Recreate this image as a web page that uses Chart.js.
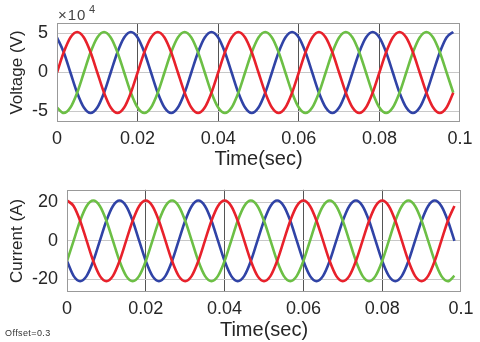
<!DOCTYPE html>
<html>
<head>
<meta charset="utf-8">
<script src="https://cdn.jsdelivr.net/npm/chart.js@4/dist/chart.umd.min.js"></script>
<style>
  html, body { margin: 0; padding: 0; background: #fff; }
  #wrap { position: relative; width: 480px; height: 342px; }
  .box { position: absolute; left: 0; width: 480px; }
</style>
</head>
<body>
<div id="wrap">
  <div class="box" style="top:0;height:170px"><canvas id="voltageChart"></canvas></div>
  <div class="box" style="top:170px;height:172px"><canvas id="currentChart"></canvas></div>
</div>
<script>
// time samples (sec), read every 1/600 s along the traces
const timeSec = [
  0, 0.00167, 0.00333, 0.005, 0.00667, 0.00833, 0.01, 0.01167, 0.01333, 0.015, 0.01667, 0.01833,
  0.02, 0.02167, 0.02333, 0.025, 0.02667, 0.02833, 0.03, 0.03167, 0.03333, 0.035, 0.03667, 0.03833,
  0.04, 0.04167, 0.04333, 0.045, 0.04667, 0.04833, 0.05, 0.05167, 0.05333, 0.055, 0.05667, 0.05833,
  0.06, 0.06167, 0.06333, 0.065, 0.06667, 0.06833, 0.07, 0.07167, 0.07333, 0.075, 0.07667, 0.07833,
  0.08, 0.08167, 0.08333, 0.085, 0.08667, 0.08833, 0.09, 0.09167, 0.09333, 0.095, 0.09667, 0.09833
];

// voltages, in units of 10^4 V
const voltageRed = [
  0, 2.6, 4.5, 5.2, 4.5, 2.6, 0, -2.6, -4.5, -5.2, -4.5, -2.6,
  0, 2.6, 4.5, 5.2, 4.5, 2.6, 0, -2.6, -4.5, -5.2, -4.5, -2.6,
  0, 2.6, 4.5, 5.2, 4.5, 2.6, 0, -2.6, -4.5, -5.2, -4.5, -2.6,
  0, 2.6, 4.5, 5.2, 4.5, 2.6, 0, -2.6, -4.5, -5.2, -4.5, -2.6,
  0, 2.6, 4.5, 5.2, 4.5, 2.6, 0, -2.6, -4.5, -5.2, -4.5, -2.6
];
const voltageGreen = [
  -4.5, -5.2, -4.5, -2.6, 0, 2.6, 4.5, 5.2, 4.5, 2.6, 0, -2.6,
  -4.5, -5.2, -4.5, -2.6, 0, 2.6, 4.5, 5.2, 4.5, 2.6, 0, -2.6,
  -4.5, -5.2, -4.5, -2.6, 0, 2.6, 4.5, 5.2, 4.5, 2.6, 0, -2.6,
  -4.5, -5.2, -4.5, -2.6, 0, 2.6, 4.5, 5.2, 4.5, 2.6, 0, -2.6,
  -4.5, -5.2, -4.5, -2.6, 0, 2.6, 4.5, 5.2, 4.5, 2.6, 0, -2.6
];
const voltageBlue = [
  4.5, 2.6, 0, -2.6, -4.5, -5.2, -4.5, -2.6, 0, 2.6, 4.5, 5.2,
  4.5, 2.6, 0, -2.6, -4.5, -5.2, -4.5, -2.6, 0, 2.6, 4.5, 5.2,
  4.5, 2.6, 0, -2.6, -4.5, -5.2, -4.5, -2.6, 0, 2.6, 4.5, 5.2,
  4.5, 2.6, 0, -2.6, -4.5, -5.2, -4.5, -2.6, 0, 2.6, 4.5, 5.2,
  4.5, 2.6, 0, -2.6, -4.5, -5.2, -4.5, -2.6, 0, 2.6, 4.5, 5.2
];

// currents (A)
const currentRed = [
  21, 18.2, 10.5, 0, -10.5, -18.2, -21, -18.2, -10.5, 0, 10.5, 18.2,
  21, 18.2, 10.5, 0, -10.5, -18.2, -21, -18.2, -10.5, 0, 10.5, 18.2,
  21, 18.2, 10.5, 0, -10.5, -18.2, -21, -18.2, -10.5, 0, 10.5, 18.2,
  21, 18.2, 10.5, 0, -10.5, -18.2, -21, -18.2, -10.5, 0, 10.5, 18.2,
  21, 18.2, 10.5, 0, -10.5, -18.2, -21, -18.2, -10.5, 0, 10.5, 18.2
];
const currentGreen = [
  -10.5, 0, 10.5, 18.2, 21, 18.2, 10.5, 0, -10.5, -18.2, -21, -18.2,
  -10.5, 0, 10.5, 18.2, 21, 18.2, 10.5, 0, -10.5, -18.2, -21, -18.2,
  -10.5, 0, 10.5, 18.2, 21, 18.2, 10.5, 0, -10.5, -18.2, -21, -18.2,
  -10.5, 0, 10.5, 18.2, 21, 18.2, 10.5, 0, -10.5, -18.2, -21, -18.2,
  -10.5, 0, 10.5, 18.2, 21, 18.2, 10.5, 0, -10.5, -18.2, -21, -18.2
];
const currentBlue = [
  -10.5, -18.2, -21, -18.2, -10.5, 0, 10.5, 18.2, 21, 18.2, 10.5, 0,
  -10.5, -18.2, -21, -18.2, -10.5, 0, 10.5, 18.2, 21, 18.2, 10.5, 0,
  -10.5, -18.2, -21, -18.2, -10.5, 0, 10.5, 18.2, 21, 18.2, 10.5, 0,
  -10.5, -18.2, -21, -18.2, -10.5, 0, 10.5, 18.2, 21, 18.2, 10.5, 0,
  -10.5, -18.2, -21, -18.2, -10.5, 0, 10.5, 18.2, 21, 18.2, 10.5, 0
];

const timeTicks = [0, 0.02, 0.04, 0.06, 0.08, 0.1];
const timeTickLabels = ['0', '0.02', '0.04', '0.06', '0.08', '0.1'];
const voltageTicks = [-5, 0, 5];
const currentTicks = [-20, 0, 20];

const phaseColors = ['#e8212b', '#6cbf45', '#3043a6'];
const fontFamily = "'Liberation Sans', Arial, sans-serif";
const textColor = '#262626';

Chart.defaults.font.family = fontFamily;

function points(values) {
    return values.map((v, i) => ({ x: timeSec[i], y: v }));
}

function lineSet(values, color) {
    return {
        data: points(values),
        borderColor: color,
        borderWidth: 2.6,
        pointRadius: 0,
        cubicInterpolationMode: 'monotone',
        fill: false
    };
}

// grey frame around the plot area, like the matlab axes box
const frameBox = {
    id: 'frameBox',
    afterDraw(chart) {
        const { ctx, chartArea: a } = chart;
        ctx.save();
        ctx.strokeStyle = '#999';
        ctx.lineWidth = 1;
        ctx.strokeRect(Math.round(a.left) + 0.5, Math.round(a.top) + 0.5,
            Math.round(a.right - a.left) - 1, Math.round(a.bottom - a.top) - 1);
        ctx.restore();
    }
};

function makeChart(canvasId, sets, yTicks, yMin, yMax, yTitle, geom, extraPlugins) {
    const el = document.getElementById(canvasId).getContext('2d');
    return new Chart(el, {
        type: 'line',
        data: { datasets: sets },
        plugins: [frameBox].concat(extraPlugins || []),
        options: {
            responsive: true,
            maintainAspectRatio: false,
            animation: false,
            layout: { padding: { top: geom.top, right: geom.right, left: 0, bottom: 0 } },
            plugins: { legend: { display: false }, tooltip: { enabled: false } },
            scales: {
                x: {
                    type: 'linear',
                    min: 0,
                    max: 0.1,
                    afterFit: scale => { scale.height = geom.xHeight; },
                    afterBuildTicks: scale => { scale.ticks = timeTicks.map(v => ({ value: v })); },
                    ticks: {
                        autoSkip: false,
                        maxRotation: 0,
                        padding: 6,
                        color: textColor,
                        font: { size: 18 },
                        callback: (v, i) => timeTickLabels[i]
                    },
                    grid: {
                        drawTicks: false,
                        color: ctx => (ctx.tick && (ctx.tick.value === 0 || ctx.tick.value === 0.1)) ? 'rgba(0,0,0,0)' : '#555'
                    },
                    border: { display: false },
                    title: {
                        display: true,
                        text: 'Time(sec)',
                        color: textColor,
                        font: { size: 20, lineHeight: 1 },
                        padding: { top: 0, bottom: geom.titlePad }
                    }
                },
                y: {
                    min: yMin,
                    max: yMax,
                    afterFit: scale => { scale.width = geom.yWidth; },
                    afterBuildTicks: scale => { scale.ticks = yTicks.map(v => ({ value: v })); },
                    ticks: { padding: 9, color: textColor, font: { size: 18 } },
                    grid: { drawTicks: false, color: '#c8c8c8' },
                    border: { display: false },
                    title: {
                        display: true,
                        text: yTitle,
                        color: textColor,
                        font: { size: 17, lineHeight: 1 },
                        padding: { top: 9, bottom: 0 }
                    }
                }
            }
        }
    });
}

// exponent label above the voltage axes
const exponentLabel = {
    id: 'exponentLabel',
    afterDraw(chart) {
        const ctx = chart.ctx;
        ctx.save();
        ctx.fillStyle = '#444';
        ctx.textBaseline = 'alphabetic';
        ctx.font = '15px ' + fontFamily;
        ctx.letterSpacing = '1px';
        ctx.fillText('\u00d710', 58, 20);
        ctx.font = '11px ' + fontFamily;
        ctx.letterSpacing = '0px';
        ctx.fillText('4', 89, 13);
        ctx.restore();
    }
};

const offsetNote = {
    id: 'offsetNote',
    afterDraw(chart) {
        const ctx = chart.ctx;
        ctx.save();
        ctx.fillStyle = '#333';
        ctx.font = '9px ' + fontFamily;
        ctx.letterSpacing = '0.4px';
        ctx.fillText('Offset=0.3', 5, 166);
        ctx.restore();
    }
};

makeChart('voltageChart',
    [lineSet(voltageRed, phaseColors[0]), lineSet(voltageGreen, phaseColors[1]), lineSet(voltageBlue, phaseColors[2])],
    voltageTicks, -6.35, 6.35, 'Voltage (V)',
    { top: 23, right: 20, xHeight: 48, yWidth: 57, titlePad: 1 },
    [exponentLabel]);

makeChart('currentChart',
    [lineSet(currentRed, phaseColors[0]), lineSet(currentGreen, phaseColors[1]), lineSet(currentBlue, phaseColors[2])],
    currentTicks, -26.6, 26.6, 'Current (A)',
    { top: 16, right: 19, xHeight: 50, yWidth: 67, titlePad: 2 },
    [offsetNote]);
</script>
</body>
</html>
